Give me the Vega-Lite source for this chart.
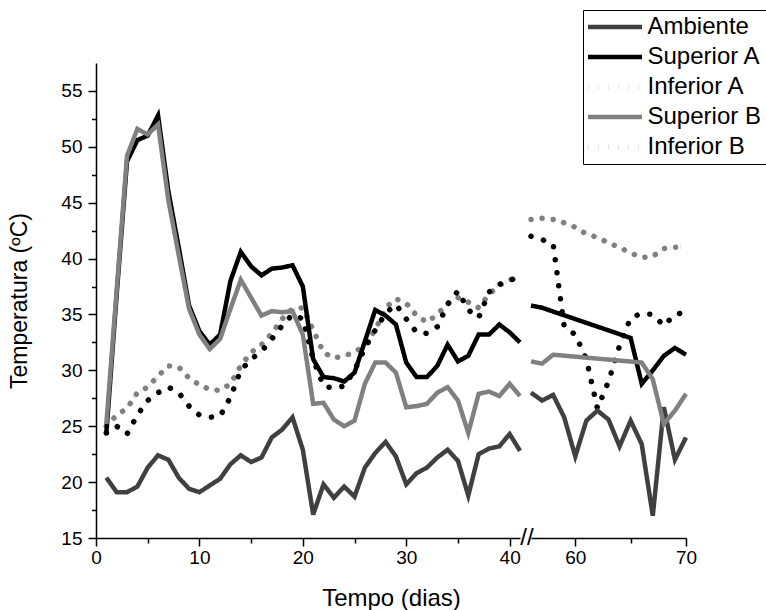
{
  "$schema": "https://vega.github.io/schema/vega-lite/v6.json",
  "padding": {"left": 8, "top": 9, "right": 0, "bottom": 0},
  "background": "white",
  "config": {
    "font": "Liberation Sans",
    "view": {"stroke": null},
    "axis": {
      "grid": false,
      "domainColor": "black",
      "domainWidth": 1.5,
      "tickColor": "black",
      "tickWidth": 1.5,
      "labelColor": "black",
      "labelFont": "Liberation Sans",
      "labelFontSize": 19,
      "titleFont": "Liberation Sans",
      "titleFontSize": 23,
      "titleFontWeight": "normal",
      "titleColor": "black",
      "labelOverlap": false,
      "labelFlush": false
    },
    "legend": {
      "orient": "none",
      "legendX": 52,
      "legendY": -53,
      "strokeColor": "black",
      "fillColor": "white",
      "padding": 5,
      "symbolType": "M-2.67,0H9.33",
      "symbolSize": 81,
      "symbolStrokeWidth": 4.5,
      "labelFont": "Liberation Sans",
      "labelFontSize": 24,
      "labelColor": "black",
      "labelOffset": 35.5,
      "labelLimit": 300,
      "rowPadding": 6
    }
  },
  "data": {
    "values": [
      {"day": 1, "Ambiente": 20.4, "Superior A": 24.4, "Inferior A": 24.4, "Superior B": 25.2, "Inferior B": 25.0},
      {"day": 2, "Ambiente": 19.1, "Superior A": 36.8, "Inferior A": 25.0, "Superior B": 37.2, "Inferior B": 26.0},
      {"day": 3, "Ambiente": 19.1, "Superior A": 48.7, "Inferior A": 24.3, "Superior B": 49.2, "Inferior B": 26.6},
      {"day": 4, "Ambiente": 19.6, "Superior A": 50.6, "Inferior A": 26.0, "Superior B": 51.6, "Inferior B": 28.0},
      {"day": 5, "Ambiente": 21.3, "Superior A": 51.0, "Inferior A": 27.3, "Superior B": 51.1, "Inferior B": 28.5},
      {"day": 6, "Ambiente": 22.4, "Superior A": 52.8, "Inferior A": 28.0, "Superior B": 52.0, "Inferior B": 29.5},
      {"day": 7, "Ambiente": 22.0, "Superior A": 46.0, "Inferior A": 28.5, "Superior B": 45.2, "Inferior B": 30.4},
      {"day": 8, "Ambiente": 20.4, "Superior A": 41.0, "Inferior A": 28.0, "Superior B": 40.3, "Inferior B": 30.3},
      {"day": 9, "Ambiente": 19.4, "Superior A": 35.8, "Inferior A": 26.8, "Superior B": 35.5, "Inferior B": 29.3},
      {"day": 10, "Ambiente": 19.1, "Superior A": 33.5, "Inferior A": 26.0, "Superior B": 33.2, "Inferior B": 28.7},
      {"day": 11, "Ambiente": 19.7, "Superior A": 32.3, "Inferior A": 25.8, "Superior B": 31.9, "Inferior B": 28.3},
      {"day": 12, "Ambiente": 20.3, "Superior A": 33.2, "Inferior A": 25.9, "Superior B": 32.8, "Inferior B": 28.2},
      {"day": 13, "Ambiente": 21.6, "Superior A": 38.0, "Inferior A": 27.6, "Superior B": 35.5, "Inferior B": 28.8},
      {"day": 14, "Ambiente": 22.4, "Superior A": 40.6, "Inferior A": 30.0, "Superior B": 38.1, "Inferior B": 30.4},
      {"day": 15, "Ambiente": 21.8, "Superior A": 39.3, "Inferior A": 31.0, "Superior B": 36.5, "Inferior B": 31.6},
      {"day": 16, "Ambiente": 22.2, "Superior A": 38.5, "Inferior A": 31.7, "Superior B": 34.9, "Inferior B": 32.3},
      {"day": 17, "Ambiente": 24.0, "Superior A": 39.1, "Inferior A": 32.8, "Superior B": 35.3, "Inferior B": 33.3},
      {"day": 18, "Ambiente": 24.7, "Superior A": 39.2, "Inferior A": 34.0, "Superior B": 35.2, "Inferior B": 34.6},
      {"day": 19, "Ambiente": 25.8, "Superior A": 39.4, "Inferior A": 35.0, "Superior B": 35.3, "Inferior B": 35.5},
      {"day": 20, "Ambiente": 22.9, "Superior A": 37.5, "Inferior A": 34.6, "Superior B": 33.2, "Inferior B": 35.6},
      {"day": 21, "Ambiente": 17.1, "Superior A": 31.0, "Inferior A": 31.0, "Superior B": 27.0, "Inferior B": 33.6},
      {"day": 22, "Ambiente": 19.8, "Superior A": 29.4, "Inferior A": 28.6, "Superior B": 27.1, "Inferior B": 31.6},
      {"day": 23, "Ambiente": 18.6, "Superior A": 29.3, "Inferior A": 28.4, "Superior B": 25.6, "Inferior B": 31.1},
      {"day": 24, "Ambiente": 19.6, "Superior A": 29.0, "Inferior A": 28.6, "Superior B": 25.0, "Inferior B": 31.3},
      {"day": 25, "Ambiente": 18.7, "Superior A": 29.8, "Inferior A": 30.0, "Superior B": 25.5, "Inferior B": 31.6},
      {"day": 26, "Ambiente": 21.3, "Superior A": 32.6, "Inferior A": 32.0, "Superior B": 28.8, "Inferior B": 32.3},
      {"day": 27, "Ambiente": 22.6, "Superior A": 35.4, "Inferior A": 33.6, "Superior B": 30.7, "Inferior B": 33.6},
      {"day": 28, "Ambiente": 23.6, "Superior A": 34.9, "Inferior A": 35.1, "Superior B": 30.7, "Inferior B": 35.6},
      {"day": 29, "Ambiente": 22.3, "Superior A": 34.1, "Inferior A": 35.9, "Superior B": 29.8, "Inferior B": 36.4},
      {"day": 30, "Ambiente": 19.8, "Superior A": 30.7, "Inferior A": 34.6, "Superior B": 26.7, "Inferior B": 36.0},
      {"day": 31, "Ambiente": 20.8, "Superior A": 29.4, "Inferior A": 33.4, "Superior B": 26.8, "Inferior B": 34.9},
      {"day": 32, "Ambiente": 21.3, "Superior A": 29.4, "Inferior A": 33.3, "Superior B": 27.0, "Inferior B": 34.3},
      {"day": 33, "Ambiente": 22.2, "Superior A": 30.4, "Inferior A": 33.9, "Superior B": 28.0, "Inferior B": 35.0},
      {"day": 34, "Ambiente": 22.9, "Superior A": 32.3, "Inferior A": 35.9, "Superior B": 28.5, "Inferior B": 36.0},
      {"day": 35, "Ambiente": 21.9, "Superior A": 30.8, "Inferior A": 37.1, "Superior B": 27.3, "Inferior B": 36.5},
      {"day": 36, "Ambiente": 18.8, "Superior A": 31.3, "Inferior A": 35.4, "Superior B": 24.4, "Inferior B": 36.1},
      {"day": 37, "Ambiente": 22.5, "Superior A": 33.2, "Inferior A": 34.7, "Superior B": 27.9, "Inferior B": 35.6},
      {"day": 38, "Ambiente": 23.0, "Superior A": 33.2, "Inferior A": 37.0, "Superior B": 28.1, "Inferior B": 36.8},
      {"day": 39, "Ambiente": 23.2, "Superior A": 34.1, "Inferior A": 37.7, "Superior B": 27.7, "Inferior B": 37.6},
      {"day": 40, "Ambiente": 24.3, "Superior A": 33.4, "Inferior A": 38.0, "Superior B": 28.8, "Inferior B": 38.1},
      {"day": 41, "Ambiente": 22.8, "Superior A": 32.5, "Inferior A": 38.5, "Superior B": 27.7, "Inferior B": 38.4},
      {"day": 56, "Ambiente": 28.0, "Superior A": 35.8, "Inferior A": 42.0, "Superior B": 30.8, "Inferior B": 43.5},
      {"day": 57, "Ambiente": 27.3, "Superior A": 35.6, "Inferior A": 41.7, "Superior B": 30.6, "Inferior B": 43.6},
      {"day": 58, "Ambiente": 27.8, "Superior A": null, "Inferior A": 41.3, "Superior B": 31.4, "Inferior B": 43.5},
      {"day": 59, "Ambiente": 25.8, "Superior A": null, "Inferior A": 33.9, "Superior B": null, "Inferior B": 43.2},
      {"day": 60, "Ambiente": 22.3, "Superior A": null, "Inferior A": 33.2, "Superior B": null, "Inferior B": 42.8},
      {"day": 61, "Ambiente": 25.5, "Superior A": null, "Inferior A": 31.0, "Superior B": null, "Inferior B": 42.2},
      {"day": 62, "Ambiente": 26.4, "Superior A": null, "Inferior A": 26.6, "Superior B": null, "Inferior B": 41.9},
      {"day": 63, "Ambiente": 25.6, "Superior A": null, "Inferior A": 29.0, "Superior B": null, "Inferior B": 41.4},
      {"day": 64, "Ambiente": 23.2, "Superior A": null, "Inferior A": 32.2, "Superior B": null, "Inferior B": 41.0},
      {"day": 65, "Ambiente": 25.5, "Superior A": 32.9, "Inferior A": 34.7, "Superior B": null, "Inferior B": 40.5},
      {"day": 66, "Ambiente": 23.4, "Superior A": 28.8, "Inferior A": 35.1, "Superior B": 30.7, "Inferior B": 40.1},
      {"day": 67, "Ambiente": 17.0, "Superior A": 30.0, "Inferior A": 35.0, "Superior B": 29.2, "Inferior B": 40.2},
      {"day": 68, "Ambiente": 26.7, "Superior A": 31.3, "Inferior A": 34.0, "Superior B": 25.2, "Inferior B": 40.9},
      {"day": 69, "Ambiente": 22.0, "Superior A": 32.0, "Inferior A": 35.0, "Superior B": 26.4, "Inferior B": 41.0},
      {"day": 70, "Ambiente": 24.0, "Superior A": 31.4, "Inferior A": 35.2, "Superior B": 27.9, "Inferior B": 41.1}
    ]
  },
  "transform": [
    {"fold": ["Ambiente", "Superior A", "Inferior A", "Superior B", "Inferior B"], "as": ["series", "temp"]},
    {"filter": "isValid(datum.temp)"}
  ],
  "spacing": 11,
  "bounds": "flush",
  "resolve": {
    "scale": {"color": "independent", "strokeDash": "independent"},
    "legend": {"color": "independent", "strokeDash": "independent"}
  },
  "hconcat": [
    {
      "width": 424,
      "height": 475,
      "transform": [{"filter": "datum.day <= 41"}],
      "encoding": {
        "x": {
          "field": "day", "type": "quantitative",
          "scale": {"domain": [0, 41], "nice": false, "zero": false},
          "axis": {
            "values": [0, 5, 10, 15, 20, 25, 30, 35, 40],
            "labelExpr": "datum.value % 10 === 0 ? datum.label : ''",
            "tickSize": {"condition": {"test": "datum.value % 10 === 0", "value": 8}, "value": 5},
            "labelPadding": 2,
            "title": "Tempo (dias)",
            "titleFontSize": 24,
            "titleX": 295,
            "titlePadding": 19
          }
        },
        "y": {
          "field": "temp", "type": "quantitative",
          "scale": {"domain": [15, 57.5], "nice": false, "zero": false},
          "axis": {
            "values": [15, 17.5, 20, 22.5, 25, 27.5, 30, 32.5, 35, 37.5, 40, 42.5, 45, 47.5, 50, 52.5, 55],
            "labelExpr": "datum.value % 5 === 0 ? datum.label : ''",
            "tickSize": {"condition": {"test": "datum.value % 5 === 0", "value": 8}, "value": 4.5},
            "labelPadding": 6,
            "title": "Temperatura (ºC)",
            "titlePadding": 29
          }
        }
      },
      "layer": [
        {
          "transform": [{"filter": {"field": "series", "oneOf": ["Inferior A", "Inferior B"]}}],
          "mark": {"type": "line", "strokeWidth": 4.5},
          "encoding": {
            "color": {"field": "series", "type": "nominal", "legend": null,
              "scale": {"domain": ["Ambiente", "Superior A", "Inferior A", "Superior B", "Inferior B"], "range": ["#404040", "#000000", "#e2e2e2", "#808080", "#e2e2e2"]}},
            "strokeDash": {"field": "series", "type": "nominal", "legend": null,
              "scale": {"domain": ["Ambiente", "Superior A", "Inferior A", "Superior B", "Inferior B"], "range": [[1, 0], [1, 0], [1, 9], [1, 0], [1, 9]]}}
          }
        },
        {
          "transform": [{"filter": "datum.series === 'Inferior B'"}],
          "mark": {"type": "line", "color": "#808080", "strokeWidth": 5.5, "strokeCap": "round", "strokeDash": [0.1, 11]},
          "encoding": {}
        },
        {
          "transform": [{"filter": "datum.series === 'Inferior A'"}],
          "mark": {"type": "line", "color": "#000000", "strokeWidth": 5.5, "strokeCap": "round", "strokeDash": [0.1, 13]},
          "encoding": {}
        },
        {
          "transform": [{"filter": {"field": "series", "oneOf": ["Ambiente", "Superior A", "Superior B"]}}],
          "mark": {"type": "line", "strokeWidth": 4.5, "strokeJoin": "miter"},
          "encoding": {
            "color": {"field": "series", "type": "nominal", "legend": null,
              "scale": {"domain": ["Ambiente", "Superior A", "Inferior A", "Superior B", "Inferior B"], "range": ["#404040", "#000000", "#e2e2e2", "#808080", "#e2e2e2"]}},
            "strokeDash": {"field": "series", "type": "nominal", "legend": null,
              "scale": {"domain": ["Ambiente", "Superior A", "Inferior A", "Superior B", "Inferior B"], "range": [[1, 0], [1, 0], [1, 9], [1, 0], [1, 9]]}}
          }
        }
      ]
    },
    {
      "width": 155,
      "height": 475,
      "transform": [{"filter": "datum.day >= 56"}],
      "encoding": {
        "x": {
          "field": "day", "type": "quantitative",
          "scale": {"domain": [56, 70], "nice": false, "zero": false},
          "axis": {
            "values": [60, 65, 70],
            "labelExpr": "datum.value % 10 === 0 ? datum.label : ''",
            "tickSize": {"condition": {"test": "datum.value % 10 === 0", "value": 8}, "value": 5},
            "labelPadding": 2,
            "title": null
          }
        },
        "y": {
          "field": "temp", "type": "quantitative",
          "scale": {"domain": [15, 57.5], "nice": false, "zero": false},
          "axis": null
        }
      },
      "layer": [
        {
          "transform": [{"filter": {"field": "series", "oneOf": ["Inferior A", "Inferior B"]}}],
          "mark": {"type": "line", "strokeWidth": 4.5},
          "encoding": {
            "color": {"field": "series", "type": "nominal", "title": null,
              "scale": {"domain": ["Ambiente", "Superior A", "Inferior A", "Superior B", "Inferior B"], "range": ["#404040", "#000000", "#e2e2e2", "#808080", "#e2e2e2"]}},
            "strokeDash": {"field": "series", "type": "nominal", "title": null,
              "scale": {"domain": ["Ambiente", "Superior A", "Inferior A", "Superior B", "Inferior B"], "range": [[1, 0], [1, 0], [1, 9], [1, 0], [1, 9]]}}
          }
        },
        {
          "transform": [{"filter": "datum.series === 'Inferior B'"}],
          "mark": {"type": "line", "color": "#808080", "strokeWidth": 5.5, "strokeCap": "round", "strokeDash": [0.1, 11]},
          "encoding": {}
        },
        {
          "transform": [{"filter": "datum.series === 'Inferior A'"}],
          "mark": {"type": "line", "color": "#000000", "strokeWidth": 5.5, "strokeCap": "round", "strokeDash": [0.1, 13]},
          "encoding": {}
        },
        {
          "transform": [{"filter": {"field": "series", "oneOf": ["Ambiente", "Superior A", "Superior B"]}}],
          "mark": {"type": "line", "strokeWidth": 4.5, "strokeJoin": "miter"},
          "encoding": {
            "color": {"field": "series", "type": "nominal", "title": null,
              "scale": {"domain": ["Ambiente", "Superior A", "Inferior A", "Superior B", "Inferior B"], "range": ["#404040", "#000000", "#e2e2e2", "#808080", "#e2e2e2"]}},
            "strokeDash": {"field": "series", "type": "nominal", "title": null,
              "scale": {"domain": ["Ambiente", "Superior A", "Inferior A", "Superior B", "Inferior B"], "range": [[1, 0], [1, 0], [1, 9], [1, 0], [1, 9]]}}
          }
        },
        {
          "data": {"values": [{"day": 56, "temp": 15}]},
          "mark": {"type": "text", "text": "//", "fontSize": 24, "font": "Liberation Sans", "dx": -4, "dy": 0, "align": "center", "baseline": "middle", "color": "black"},
          "encoding": {}
        }
      ]
    }
  ]
}
